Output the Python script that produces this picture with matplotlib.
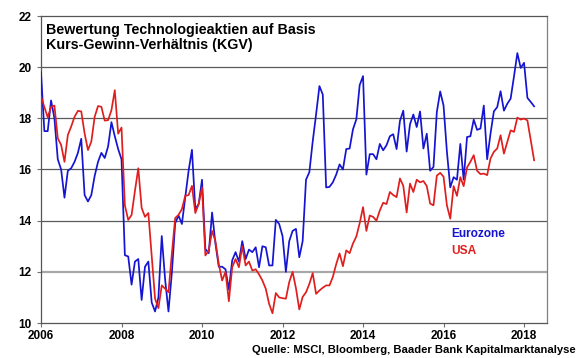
import numpy as np
import pandas as pd
import matplotlib
matplotlib.use('Agg')
import matplotlib.pyplot as plt

plt.rcParams['font.family'] = ['Liberation Sans', 'DejaVu Sans']

# Monatswerte KGV, Jan 2006 - Apr 2018
eurozone = [
    19.8, 17.5, 17.5, 18.7, 18.0, 16.4, 16.0, 14.9, 15.95, 16.05, 16.3, 16.65,
    17.2, 15.0, 14.75, 15.0, 15.75, 16.3, 16.65, 16.45, 16.9, 17.85, 17.3, 16.8,
    16.4, 12.65, 12.6, 11.5, 12.4, 12.5, 10.9, 12.2, 12.4, 10.8, 10.45, 11.0,
    13.4, 11.7, 10.45, 11.95, 13.9, 14.2, 13.87, 14.9, 15.95, 16.77, 14.45, 14.65,
    15.6, 12.9, 12.73, 14.32, 13.1, 12.2, 12.2, 12.1, 11.3, 12.45, 12.77, 12.4,
    13.2, 12.5, 12.87, 12.77, 12.96, 12.18, 13.0, 12.96, 12.25, 12.25, 14.03, 13.87,
    13.4, 12.0, 13.2, 13.6, 13.68, 12.57, 13.2, 15.6, 15.9, 17.1, 18.15, 19.26,
    18.93, 15.3, 15.32, 15.5, 15.8, 16.2, 16.0, 16.8, 16.82, 17.57, 17.96, 19.3,
    19.65, 15.8, 16.6, 16.6, 16.4, 17.0, 16.75, 16.95, 17.3, 17.38, 16.8, 17.9,
    18.3, 16.7, 17.77, 18.15, 17.66, 18.27, 16.82, 17.4, 15.95, 16.1, 18.25, 19.05,
    18.5, 16.7, 15.3, 15.7, 15.6, 17.0, 15.6, 17.27, 17.3, 17.95, 17.55, 17.6,
    18.5, 16.4, 17.4, 18.27, 18.44, 19.06, 18.3, 18.57, 18.77, 19.64, 20.55, 19.97,
    20.17, 18.8, 18.64, 18.47,
]
usa = [
    18.85, 18.45, 18.04, 18.45, 18.5, 17.22, 16.96, 16.3, 17.35, 17.68, 18.06, 18.29,
    18.27, 17.41, 16.76, 17.09, 18.06, 18.48, 18.45, 17.91, 17.93, 18.32, 19.1, 17.4,
    17.64, 14.6, 14.03, 14.22, 15.16, 16.05, 14.5, 14.15, 14.3, 12.65, 10.95, 10.58,
    11.47, 11.34, 11.2, 12.7, 14.1, 14.23, 14.45, 14.97, 15.0, 15.36, 14.3, 14.65,
    15.3, 12.64, 12.83, 13.6, 13.2, 12.3, 11.66, 12.0, 10.85, 12.18, 12.5, 12.18,
    13.0, 12.25, 12.4, 12.05, 12.1, 11.9, 11.66, 11.34, 10.75, 10.38, 11.17, 11.0,
    10.97, 10.95, 11.6, 12.0, 11.36, 10.53, 11.02, 11.2, 11.53, 11.95, 11.14, 11.27,
    11.38, 11.47, 11.47, 11.8, 12.3, 12.72, 12.22, 12.84, 12.73, 13.11, 13.38, 13.9,
    14.53, 13.6, 14.2, 14.15, 14.0, 14.4, 14.7, 14.65, 15.12, 15.0, 14.92, 15.65,
    15.36, 14.32, 15.45, 15.12, 15.6, 15.5, 15.55, 15.35, 14.67, 14.6, 15.76, 15.87,
    15.72, 14.6, 14.08, 15.35, 14.97, 15.7, 15.35, 16.08, 16.3, 16.56, 15.95, 15.82,
    15.84, 15.78, 16.43, 16.69, 16.82, 17.34, 16.62, 17.08, 17.53, 17.47, 18.03, 17.95,
    17.99, 17.92, 17.14, 16.36,
]
start_year = 2006
year_ticks = [2006, 2008, 2010, 2012, 2014, 2016, 2018]
y_ticks = [10, 12, 14, 16, 18, 20, 22]

months = np.arange(len(eurozone))
t = start_year + months / 12.0

BLUE = '#1414d2'
RED = '#e01e1e'

fig = plt.figure(figsize=(5.8, 3.58), dpi=100)
ax = fig.add_axes([41 / 580, 1 - 323 / 358, (547 - 41) / 580, (323 - 16) / 358])

# Gitterlinien (12 heller und etwas dicker)
for v in y_ticks[1:-1]:
    if v == 12:
        ax.axhline(v, color='#a8a8a8', lw=1.6, zorder=1)
    else:
        ax.axhline(v, color='#5a5a5a', lw=0.9, zorder=1)

ax.plot(t, eurozone, color=BLUE, lw=1.25, zorder=3)
ax.plot(t, usa, color=RED, lw=1.25, zorder=3)

ax.set_xlim(2006, 2018.57)
ax.set_ylim(10, 22)
ax.set_xticks(year_ticks)
ax.set_yticks(y_ticks)
ax.set_xticklabels([str(y) for y in year_ticks], fontweight='bold', fontsize=8.5)
ax.set_yticklabels([str(y) for y in y_ticks], fontweight='bold', fontsize=8.5)
ax.tick_params(axis='both', direction='out', length=3, width=0.8, color='#707070', pad=2)
ax.tick_params(axis='y', pad=4)

for side in ['left', 'bottom', 'top']:
    ax.spines[side].set_color('#555555')
    ax.spines[side].set_linewidth(0.9)
ax.spines['right'].set_color('#808080')
ax.spines['right'].set_linewidth(0.9)

ax.text(0.01, 0.978, 'Bewertung Technologieaktien auf Basis\nKurs-Gewinn-Verhältnis (KGV)',
        transform=ax.transAxes, ha='left', va='top', fontsize=10.3, fontweight='bold',
        linespacing=1.15)

ax.text(2016.2, 13.48, 'Eurozone', color=BLUE, fontsize=8.6, fontweight='bold', va='center')
ax.text(2016.2, 12.82, 'USA', color=RED, fontsize=8.6, fontweight='bold', va='center')

fig.text(576 / 580, 1 - 350 / 358, 'Quelle: MSCI, Bloomberg, Baader Bank Kapitalmarktanalyse',
         ha='right', va='center', fontsize=8.1, fontweight='bold')

fig.savefig('out.png', dpi=100)
